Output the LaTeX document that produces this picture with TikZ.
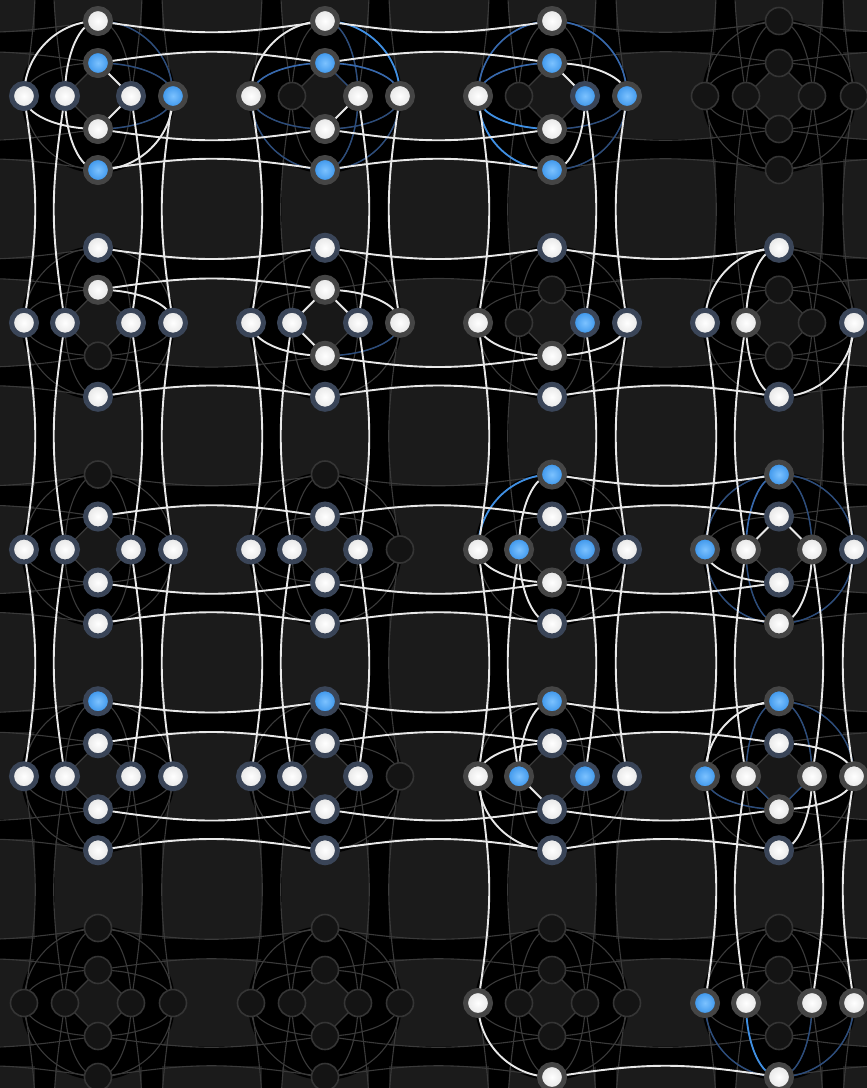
\documentclass[tikz,border=0pt]{standalone}
\definecolor{qbg}{HTML}{1B1B1B}
\definecolor{qdia}{HTML}{181818}
\definecolor{qfe}{HTML}{3A3A3A}
\definecolor{qwe}{HTML}{E8E8E8}
\definecolor{qbb}{HTML}{3F8FE3}
\definecolor{qbm}{HTML}{3668AD}
\definecolor{qbd}{HTML}{2B4C7C}
\definecolor{qgr}{HTML}{454545}
\definecolor{qbl}{HTML}{3A4558}
\definecolor{qff}{HTML}{141414}
\definecolor{qfr}{HTML}{353535}
\definecolor{qwo}{HTML}{E4E4E4}
\definecolor{qui}{HTML}{7CC2FF}
\definecolor{quo}{HTML}{3590E8}
\def\qdef#1#2{\expandafter\def\csname #1\endcsname{#2}}
\qdef{qin-T}{0}\qdef{qin-t}{1}\qdef{qin-b}{1}\qdef{qin-B}{0}
\qdef{qin-L}{0}\qdef{qin-l}{1}\qdef{qin-r}{1}\qdef{qin-R}{0}
\qdef{qvy-T}{-75}\qdef{qvy-t}{-33}\qdef{qvy-b}{33}\qdef{qvy-B}{74}
\qdef{qhx-L}{-74}\qdef{qhx-l}{-33}\qdef{qhx-r}{33}\qdef{qhx-R}{75}
\qdef{qd-T}{15}\qdef{qd-t}{-15}\qdef{qd-b}{15}\qdef{qd-B}{-15}
\qdef{qd-L}{15}\qdef{qd-l}{-15}\qdef{qd-r}{15}\qdef{qd-R}{-15}
\newcommand\qedge[5]{%
  \edef\qa{\csname qin-#3\endcsname}\edef\qb{\csname qin-#4\endcsname}%
  \edef\qhx{\csname qhx-#4\endcsname}\edef\qvy{\csname qvy-#3\endcsname}%
  \ifnum\qa\qb=11 \def\qk{0}\else\def\qk{0.5523}\fi
  \draw[#5] (n#1#2#3) .. controls +(\qk*\qhx,0) and +(0,\qk*\qvy) .. (n#1#2#4);}
\newcommand\qh[4]{%
  \pgfmathtruncatemacro\qj{#1+1}\edef\qdd{\csname qd-#3\endcsname}%
  \draw[#4] (n#1#2#3) .. controls +(100,\qdd) and +(-100,\qdd) .. (n\qj#2#3);}
\newcommand\qv[4]{%
  \pgfmathtruncatemacro\qj{#2+1}\edef\qdd{\csname qd-#3\endcsname}%
  \draw[#4] (n#1#2#3) .. controls +(\qdd,100) and +(\qdd,-100) .. (n#1\qj#3);}
\tikzset{
  efade/.style={draw=qfe, line width=1.1},
  ewhite/.style={draw=qwe, line width=1.9},
  ebright/.style={draw=qbb, line width=1.8},
  emid/.style={draw=qbm, line width=1.6},
  edark/.style={draw=qbd, line width=1.4},
  nfade/.style={circle, minimum size=27, inner sep=0, fill=qff, draw=qfr, line width=1.6},
  nw/.style={circle, minimum size=25, inner sep=0, draw=#1, line width=5, inner color=white, outer color=qwo},
  nu/.style={circle, minimum size=25, inner sep=0, draw=#1, line width=5, inner color=qui, outer color=quo}
}
\begin{document}
\begin{tikzpicture}[x=1pt,y=-1pt]
\useasboundingbox (0,0) rectangle (867,1088);
\clip (0,0) rectangle (867,1088);
\fill[qbg] (0,0) rectangle (867,1088);
% coordinates
\foreach \ci in {0,...,5}{\foreach \ri in {0,...,6}{%
  \pgfmathsetmacro\cx{98+227*(\ci-1)}\pgfmathsetmacro\cy{96+226.75*(\ri-1)}%
  \coordinate (n\ci\ri C) at (\cx,\cy);
  \foreach \X/\dx/\dy in {T/0/-75,t/0/-33,L/-74/0,l/-33/0,r/33/0,R/75/0,b/0/33,B/0/74}{%
    \coordinate (n\ci\ri\X) at (\cx+\dx,\cy+\dy);}
}}
% black bands
\foreach \i in {0,...,6}{\pgfmathsetmacro\cy{96+226.75*(\i-1)}%
  \fill[black] (0,\cy-64) rectangle (867,\cy-44);
  \fill[black] (0,\cy+43) rectangle (867,\cy+63);}
\foreach \i in {0,...,5}{\pgfmathsetmacro\cx{98+227*(\i-1)}%
  \fill[black] (\cx-63,0) rectangle (\cx-43,1088);
  \fill[black] (\cx+44,0) rectangle (\cx+64,1088);}
\foreach \ci in {0,...,5}{\foreach \ri in {0,...,6}{%
  \fill[black] (n\ci\ri C) circle (77);
  \fill[qdia] (n\ci\ri t) -- (n\ci\ri r) -- (n\ci\ri b) -- (n\ci\ri l) -- cycle;}}
% faded edges
\foreach \ci in {0,...,5}{\foreach \ri in {0,...,6}{\foreach \V in {T,t,b,B}{\foreach \H in {L,l,r,R}{%
  \qedge{\ci}{\ri}{\V}{\H}{efade}}}}}
\foreach \ci in {0,...,4}{\foreach \ri in {0,...,6}{\foreach \X in {T,t,b,B}{\qh{\ci}{\ri}{\X}{efade}}}}
\foreach \ci in {0,...,5}{\foreach \ri in {0,...,5}{\foreach \X in {L,l,r,R}{\qv{\ci}{\ri}{\X}{efade}}}}
% dark blue intra edges
\foreach \pa/\pb/\V/\H in {1/1/T/R,1/1/t/R,1/1/b/R,
  2/1/T/r,2/1/t/r,2/1/b/L,2/1/b/R,2/1/B/L,2/1/B/r,2/1/B/R,
  3/1/b/R,3/1/B/R,2/2/b/R,
  4/3/T/L,4/3/T/R,4/3/T/r,4/3/B/L,4/3/B/l,4/3/B/R,
  4/4/T/l,4/4/T/r,4/4/T/R,4/4/b/L,4/4/b/l,4/4/b/r,
  4/5/B/L,4/5/B/r,4/5/B/R}{\qedge{\pa}{\pb}{\V}{\H}{edark}}
% medium blue
\foreach \pa/\pb/\V/\H in {2/1/t/L,2/1/t/R,3/1/T/L,3/1/T/R,3/1/t/L,4/3/T/l}{\qedge{\pa}{\pb}{\V}{\H}{emid}}
% bright blue
\foreach \pa/\pb/\V/\H in {2/1/T/R,3/1/b/L,3/1/B/L,3/3/T/L,4/5/B/l}{\qedge{\pa}{\pb}{\V}{\H}{ebright}}
% white intra edges
\foreach \pa/\pb/\V/\H in {1/1/T/L,1/1/T/l,1/1/t/r,1/1/b/L,1/1/b/r,1/1/B/l,1/1/B/R,
  2/1/T/L,2/1/b/r,3/1/t/R,3/1/t/r,3/1/B/r,1/2/t/R,
  2/2/t/l,2/2/t/r,2/2/t/R,2/2/b/l,2/2/b/L,3/2/b/L,3/2/b/R,
  4/2/T/L,4/2/T/l,4/2/B/l,4/2/B/R,3/3/T/l,3/3/b/L,3/3/B/l,
  4/3/t/l,4/3/t/r,4/3/b/L,4/3/B/r,3/4/T/l,3/4/t/L,3/4/b/l,3/4/B/L,
  4/4/T/L,4/4/t/R,4/4/b/R,4/4/B/r,3/5/B/L}{\qedge{\pa}{\pb}{\V}{\H}{ewhite}}
% white inter-cell horizontal
\foreach \pa/\pb/\X in {1/1/T,1/1/t,1/1/b,1/1/B,2/1/T,2/1/t,2/1/b,2/1/B,
  1/2/T,1/2/t,1/2/B,2/2/T,2/2/b,2/2/B,3/2/T,3/2/B,
  1/3/t,1/3/b,1/3/B,2/3/t,2/3/b,2/3/B,3/3/T,3/3/t,3/3/b,3/3/B,
  1/4/T,1/4/t,1/4/b,1/4/B,2/4/T,2/4/t,2/4/b,2/4/B,3/4/T,3/4/t,3/4/b,3/4/B,
  3/5/B}{\qh{\pa}{\pb}{\X}{ewhite}}
% white inter-cell vertical
\foreach \pa/\pb/\X in {1/1/L,1/1/l,1/1/r,1/1/R,1/2/L,1/2/l,1/2/r,1/2/R,1/3/L,1/3/l,1/3/r,1/3/R,
  2/1/L,2/1/r,2/1/R,2/2/L,2/2/l,2/2/r,2/3/L,2/3/l,2/3/r,
  3/1/L,3/1/r,3/1/R,3/2/L,3/2/r,3/2/R,3/3/L,3/3/l,3/3/r,3/3/R,3/4/L,
  4/2/L,4/2/l,4/2/R,4/3/L,4/3/l,4/3/r,4/3/R,4/4/L,4/4/l,4/4/r,4/4/R}{\qv{\pa}{\pb}{\X}{ewhite}}
% faded nodes
\foreach \ci in {0,...,5}{\foreach \ri in {0,...,6}{\foreach \X in {T,t,L,l,r,R,b,B}{%
  \node[nfade] (m\ci\ri\X) at (n\ci\ri\X) {};}}}
% white nodes
\foreach \pa/\pb/\X/\rc in {1/1/T/qgr,1/1/L/qbl,1/1/l/qbl,1/1/r/qbl,1/1/b/qgr,
  2/1/T/qgr,2/1/L/qgr,2/1/r/qgr,2/1/R/qgr,2/1/b/qgr,
  3/1/T/qgr,3/1/L/qgr,3/1/b/qgr,
  1/2/T/qbl,1/2/t/qgr,1/2/L/qbl,1/2/l/qbl,1/2/r/qbl,1/2/R/qbl,1/2/B/qbl,
  2/2/T/qbl,2/2/t/qgr,2/2/L/qbl,2/2/l/qbl,2/2/r/qbl,2/2/R/qgr,2/2/b/qgr,2/2/B/qbl,
  3/2/T/qbl,3/2/L/qgr,3/2/R/qbl,3/2/b/qgr,3/2/B/qbl,
  4/2/T/qbl,4/2/L/qbl,4/2/l/qgr,4/2/R/qbl,4/2/B/qbl,
  1/3/t/qbl,1/3/L/qbl,1/3/l/qbl,1/3/r/qbl,1/3/R/qbl,1/3/b/qbl,1/3/B/qbl,
  2/3/t/qbl,2/3/L/qbl,2/3/l/qbl,2/3/r/qbl,2/3/b/qbl,2/3/B/qbl,
  3/3/t/qbl,3/3/L/qgr,3/3/R/qbl,3/3/b/qgr,3/3/B/qbl,
  4/3/t/qbl,4/3/l/qgr,4/3/r/qgr,4/3/R/qbl,4/3/b/qbl,4/3/B/qgr,
  1/4/t/qbl,1/4/L/qbl,1/4/l/qbl,1/4/r/qbl,1/4/R/qbl,1/4/b/qbl,1/4/B/qbl,
  2/4/t/qbl,2/4/L/qbl,2/4/l/qbl,2/4/r/qbl,2/4/b/qbl,2/4/B/qbl,
  3/4/t/qbl,3/4/L/qgr,3/4/R/qbl,3/4/b/qbl,3/4/B/qbl,
  4/4/t/qbl,4/4/l/qgr,4/4/r/qgr,4/4/R/qgr,4/4/b/qgr,4/4/B/qbl,
  3/5/L/qgr,3/5/B/qgr,
  4/5/l/qgr,4/5/r/qgr,4/5/R/qgr,4/5/B/qgr}{\node[nw=\rc] (w\pa\pb\X) at (n\pa\pb\X) {};}
% blue nodes
\foreach \pa/\pb/\X/\rc in {1/1/t/qgr,1/1/R/qgr,1/1/B/qgr,
  2/1/t/qgr,2/1/B/qgr,
  3/1/t/qgr,3/1/r/qbl,3/1/R/qgr,3/1/B/qgr,
  3/2/r/qbl,
  3/3/T/qgr,3/3/l/qgr,3/3/r/qbl,
  4/3/T/qgr,4/3/L/qgr,
  1/4/T/qbl,2/4/T/qbl,
  3/4/T/qgr,3/4/l/qgr,3/4/r/qbl,
  4/4/T/qgr,4/4/L/qgr,
  4/5/L/qgr}{\node[nu=\rc] (u\pa\pb\X) at (n\pa\pb\X) {};}
\end{tikzpicture}
\end{document}
